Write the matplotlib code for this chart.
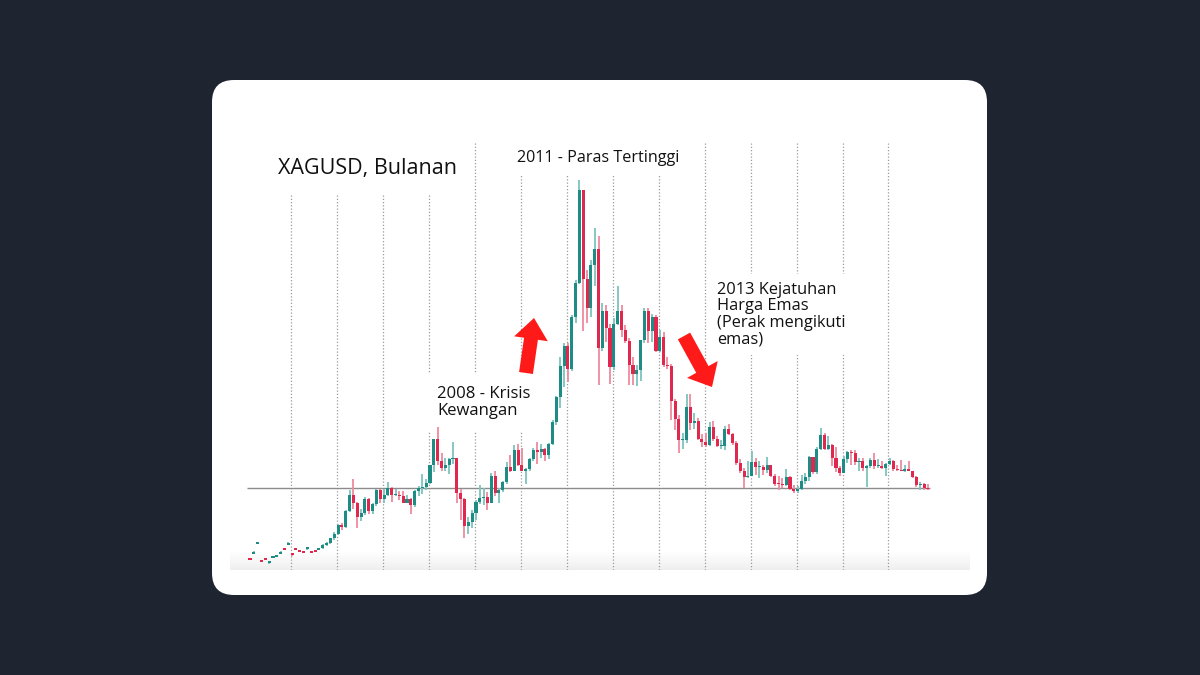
import numpy as np
import matplotlib.pyplot as plt
from matplotlib.patches import FancyBboxPatch, Polygon

plt.rcParams['font.family'] = ['Open Sans', 'DejaVu Sans']

# XAGUSD bulanan, Feb 2004 - Nov 2018
# Feb 2004 - Ogos 2005: lilin kecil, open diberi sendiri
early_open = [6.08, 6.56, 7.71, 5.85, 6.08, 5.51, 6.09, 6.21, 6.56, 7.24,
              7.60, 6.61, 7.24, 7.01, 6.89, 7.13, 6.89, 7.01, 7.02]
early_high = [6.14, 6.84, 7.99, 5.91, 6.14, 5.79, 6.37, 6.49, 6.84, 7.30,
              7.88, 6.67, 7.30, 7.07, 6.95, 7.41, 6.95, 7.07, 7.30]
early_low = [5.80, 6.50, 7.65, 5.57, 5.80, 5.45, 6.03, 6.15, 6.50, 6.96,
             7.54, 6.33, 6.96, 6.73, 6.61, 7.07, 6.61, 6.73, 6.96]
early_close = [5.86, 6.78, 7.93, 5.63, 5.86, 5.73, 6.31, 6.43, 6.78, 7.02,
               7.82, 6.39, 7.02, 6.79, 6.67, 7.35, 6.67, 6.79, 7.24]

# Sep 2005 - Nov 2018: open = close bulan sebelumnya
closes = [7.6, 7.8, 8.35, 8.85,
          9.9, 9.65, 11.5, 13.4, 12.5, 10.8, 11.3, 12.9, 11.5, 12.3, 13.9, 12.9,
          13.4, 14.2, 13.4, 13.4, 13.3, 12.5, 12.9, 12.2, 13.8, 14.2, 14.3, 14.8,
          16.8, 19.8, 17.3, 16.5, 16.9, 17.5, 17.6, 13.6, 12.9, 9.8, 10.2, 11.3,
          12.6, 13.0, 13.1, 12.5, 15.6, 13.6, 14.0, 14.9, 16.6, 16.2, 18.6, 16.9,
          16.2, 16.4, 17.5, 18.6, 18.4, 18.7, 18.0, 19.3, 21.8, 24.7, 28.3, 30.6,
          27.9, 34.0, 37.9, 48.6, 38.4, 35.0, 40.0, 41.8, 30.4, 34.6, 32.7, 28.2,
          33.2, 34.7, 32.5, 31.2, 28.4, 27.4, 27.8, 31.3, 34.6, 32.3, 34.0, 30.0,
          31.7, 28.4, 28.3, 24.2, 22.2, 19.7, 19.7, 23.6, 21.7, 21.9, 19.9, 19.5,
          19.1, 21.2, 19.8, 19.0, 19.0, 21.0, 20.4, 19.4, 17.1, 16.2, 15.5, 15.6,
          17.2, 16.6, 16.6, 16.3, 16.8, 15.6, 14.7, 14.6, 14.5, 15.5, 14.1, 13.8,
          14.1, 15.0, 15.4, 17.8, 16.0, 18.7, 20.3, 18.7, 19.2, 17.7, 16.5, 15.9,
          17.5, 18.4, 18.2, 17.2, 17.3, 16.5, 16.7, 17.4, 16.7, 16.7, 16.5, 17.0,
          17.3, 16.4, 16.3, 16.2, 16.4, 16.1, 15.5, 14.5, 14.7, 14.2, 14.1]
highs = [7.7, 7.95, 8.45, 9.1,
         10.0, 10.1, 11.6, 14.0, 15.2, 12.6, 11.7, 13.1, 13.0, 12.5, 14.1, 14.1,
         14.1, 14.9, 14.3, 14.1, 13.8, 13.8, 13.4, 13.0, 13.9, 14.4, 15.8, 15.2,
         16.9, 19.9, 21.2, 18.2, 17.6, 17.6, 19.5, 17.6, 14.1, 13.0, 10.8, 11.6,
         12.8, 14.5, 14.2, 13.7, 15.9, 16.2, 14.2, 15.0, 17.2, 18.0, 19.2, 19.3,
         18.8, 16.5, 17.7, 18.8, 19.5, 19.3, 18.8, 19.4, 22.1, 24.8, 29.3, 31.0,
         31.0, 34.2, 38.2, 49.8, 48.7, 39.4, 40.6, 44.3, 43.3, 35.6, 35.4, 33.2,
         33.8, 37.5, 35.4, 33.0, 31.5, 29.3, 28.4, 31.3, 35.0, 35.0, 34.3, 34.2,
         32.5, 32.2, 29.3, 28.5, 24.5, 22.6, 20.5, 25.1, 25.0, 22.8, 22.3, 20.4,
         20.5, 21.8, 21.9, 20.2, 19.7, 21.4, 21.6, 20.6, 19.6, 17.5, 16.5, 17.3,
         18.5, 17.6, 17.3, 16.9, 17.8, 16.9, 15.8, 15.6, 15.3, 16.4, 15.6, 14.5,
         14.4, 15.7, 15.9, 17.9, 17.8, 18.9, 21.1, 20.5, 20.2, 19.3, 18.9, 16.7,
         17.9, 18.5, 18.6, 18.6, 17.6, 17.6, 16.9, 17.7, 18.2, 17.5, 17.3, 17.1,
         17.7, 17.4, 16.9, 17.4, 16.8, 17.3, 16.2, 15.6, 14.9, 14.8, 14.6]
lows = [7.15, 7.5, 7.75, 8.2,
        8.8, 9.3, 9.6, 11.4, 11.8, 9.5, 10.4, 11.1, 11.2, 11.2, 12.1, 12.4,
        12.4, 13.3, 12.6, 13.3, 12.8, 12.4, 12.5, 11.2, 12.0, 13.2, 13.5, 13.9,
        14.6, 16.0, 16.9, 16.1, 16.2, 15.8, 17.0, 12.5, 10.5, 8.4, 8.9, 9.6,
        10.5, 12.3, 12.2, 11.6, 12.4, 13.3, 12.4, 13.7, 14.7, 16.0, 16.1, 16.7,
        16.1, 14.6, 16.2, 17.3, 17.0, 17.6, 17.3, 17.5, 19.1, 21.5, 23.4, 25.9,
        26.4, 27.7, 33.3, 37.8, 32.3, 33.3, 34.0, 37.6, 26.1, 30.0, 31.1, 26.2,
        27.8, 33.0, 31.6, 30.9, 26.1, 26.1, 26.0, 26.6, 31.0, 31.0, 31.1, 29.9,
        29.9, 28.2, 27.9, 22.0, 20.9, 18.2, 18.7, 19.4, 20.9, 21.0, 19.7, 18.9,
        18.9, 19.0, 19.6, 18.9, 18.7, 18.6, 20.3, 19.2, 16.8, 15.9, 14.2, 15.3,
        15.6, 15.7, 15.3, 15.7, 15.9, 15.5, 14.4, 13.9, 14.2, 14.4, 14.0, 13.6,
        13.6, 13.9, 14.6, 15.0, 15.8, 15.8, 18.6, 18.6, 18.6, 16.7, 16.0, 15.6,
        15.9, 17.1, 16.8, 16.9, 16.2, 16.2, 14.3, 16.5, 16.4, 16.5, 16.4, 15.6,
        16.9, 16.1, 16.1, 16.1, 16.0, 16.1, 15.3, 14.3, 13.9, 14.0, 13.9]

years = list(range(2005, 2019))
level_line = 14.2

o = np.array(early_open + [early_close[-1]] + closes[:-1])
c = np.array(early_close + closes)
hi = np.array(early_high + highs)
lo = np.array(early_low + lows)
idx = np.arange(len(c))
jan2005 = 11  # index lilin Jan 2005

W, H = 1200, 675
fig = plt.figure(figsize=(12, 6.75), dpi=100, facecolor='#1e2530')

card = FancyBboxPatch((2.12, 0.80), 7.75, 5.15,
                      boxstyle='round,pad=0,rounding_size=0.22',
                      transform=fig.dpi_scale_trans, facecolor='white',
                      edgecolor='none', zorder=-1)
fig.add_artist(card)

# kawasan carta dalam piksel
ax_l, ax_r, ax_t, ax_b = 230, 970, 140, 570
ax = fig.add_axes([ax_l / W, (H - ax_b) / H, (ax_r - ax_l) / W, (ax_b - ax_t) / H])
ax.set_facecolor('none')
ax.axis('off')

# gradien kelabu di bawah
grad = np.zeros((60, 2, 4))
grad[..., :3] = 0.935
grad[..., 3] = np.linspace(0, 1, 60)[:, None]
ax.imshow(grad, extent=[0, 1, 0, 18 / (ax_b - ax_t)], transform=ax.transAxes,
          aspect='auto', zorder=0.5)

# skala: 3.83 px sebulan, lilin pertama di x=250; 8.4 -> y=538, 8.647 px per dolar
ppm, x0 = 3.83, 250
ppd, p_ref, y_ref = 8.647, 8.4, 538
ax.set_xlim((ax_l - x0) / ppm, (ax_r - x0) / ppm)
ax.set_ylim(p_ref + (y_ref - ax_b) / ppd, p_ref + (y_ref - ax_t) / ppd)

for y in years:
    xi = jan2005 + 12 * (y - 2005) - 0.3
    ax.axvline(xi, ymin=0, ymax=(ax_b - 143) / (ax_b - ax_t), color='#9a9a9a',
               lw=0.9, ls=(0, (1, 1.6)), zorder=1)

ax.hlines(level_line, -0.8, idx[-1] + 0.5, color='#8c8c8c', lw=1, zorder=2.5)

up = c >= o
col_up, col_dn = '#1c8c84', '#e0284e'
wick_up, wick_dn = '#7cc4be', '#ee8a9e'
ax.vlines(idx, lo, hi, colors=np.where(up, wick_up, wick_dn), lw=1.3, zorder=3)
ax.bar(idx, np.maximum(np.abs(c - o), 0.12), bottom=np.minimum(o, c), width=0.8,
       color=np.where(up, col_up, col_dn), linewidth=0, zorder=4)


def fp(px, py):
    return px / W, 1 - py / H


box = dict(facecolor='white', edgecolor='none')
ax.text(*fp(278, 174), 'XAGUSD, Bulanan', transform=fig.transFigure, fontsize=15.5,
        color='#111111', va='baseline', ha='left', zorder=2, bbox=dict(box, pad=11))
ax.text(*fp(517, 162), '2011 - Paras Tertinggi', transform=fig.transFigure,
        fontsize=11.6, color='#111111', va='baseline', ha='left', zorder=2,
        bbox=dict(box, pad=7))
ax.text(*fp(437, 386), '2008 - Krisis\nKewangan', transform=fig.transFigure,
        fontsize=12, color='#111111', va='top', ha='left', linespacing=1.1,
        zorder=2, bbox=dict(box, pad=8.5))
ax.text(*fp(717, 282), '2013 Kejatuhan\nHarga Emas\n(Perak mengikuti\nemas)',
        transform=fig.transFigure, fontsize=11.8, color='#111111', va='top',
        ha='left', linespacing=1.03, zorder=2, bbox=dict(box, pad=6))


def arrow(tail, tip, shaft, head_w, head_l):
    t = np.array(tail, float)
    h = np.array(tip, float)
    d = h - t
    u = d / np.hypot(*d)
    n = np.array([-u[1], u[0]])
    b = h - u * head_l
    pts = [t + n * shaft / 2, b + n * shaft / 2, b + n * head_w / 2, h,
           b - n * head_w / 2, b - n * shaft / 2, t - n * shaft / 2]
    pts = [(x / 100, (H - y) / 100) for x, y in pts]
    fig.add_artist(Polygon(pts, closed=True, transform=fig.dpi_scale_trans,
                           facecolor='#ff1a1a', edgecolor='none', zorder=5))


arrow((526, 373), (534, 318), 14, 34, 21)
arrow((684, 336), (712, 387), 14, 35, 20)

fig.savefig('out.png', dpi=100, facecolor=fig.get_facecolor())
